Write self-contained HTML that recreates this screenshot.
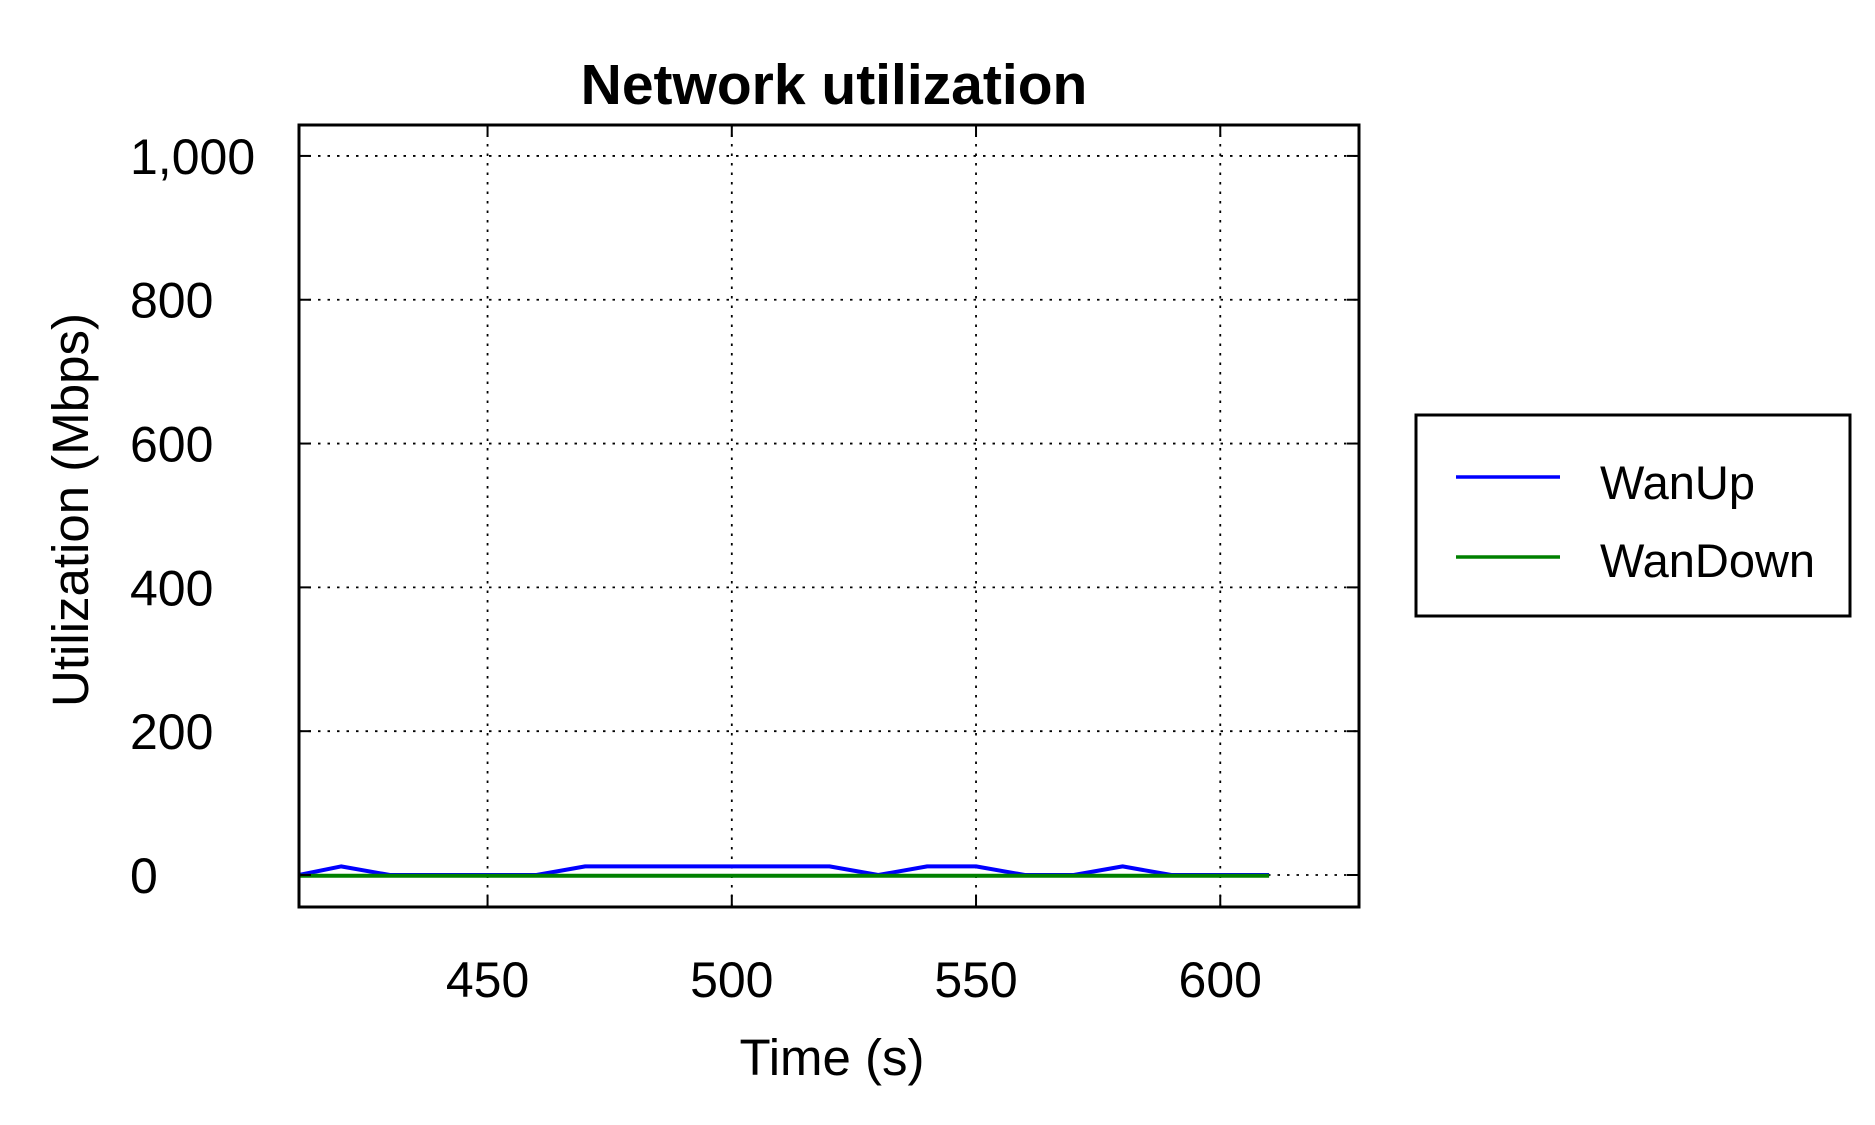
<!DOCTYPE html>
<html><head><meta charset="utf-8"><style>
body{margin:0;background:#fff}
svg{display:block;font-family:"Liberation Sans",Arial,sans-serif}
</style></head><body>
<svg id="chart" width="1875" height="1125" viewBox="0 0 1875 1125" xmlns="http://www.w3.org/2000/svg">
<rect width="1875" height="1125" fill="#fff"/>
<text x="834" y="104" text-anchor="middle" font-size="57" font-weight="bold">Network utilization</text>
<g id="grid"></g>
<g id="series"></g>
<rect x="299" y="125" width="1060" height="782" fill="none" stroke="#000" stroke-width="3"/>
<g id="ticks"></g>
<text x="832" y="1075" text-anchor="middle" font-size="51">Time (s)</text>
<text transform="translate(88,510) rotate(-90)" text-anchor="middle" font-size="51">Utilization (Mbps)</text>
<g>
<rect x="1416" y="415" width="434" height="201" fill="#fff" stroke="#000" stroke-width="3"/>
<line x1="1456" y1="477" x2="1560" y2="477" stroke="#0000ff" stroke-width="3.5"/>
<text x="1600" y="499" font-size="47">WanUp</text>
<line x1="1456" y1="557" x2="1560" y2="557" stroke="#008000" stroke-width="3.5"/>
<text x="1600" y="577" font-size="47">WanDown</text>
</g>
</svg>
<script>
const times = [410,420,430,440,450,460,470,480,490,500,510,520,530,540,550,560,570,580,590,600,610];
const wanUp = [0,12,0,0,0,0,12,12,12,12,12,12,0,12,12,0,0,12,0,0,0];
const wanDown = [-1,-1,-1,-1,-1,-1,-1,-1,-1,-1,-1,-1,-1,-1,-1,-1,-1,-1,-1,-1,-1];
const xTicks = [450,500,550,600];
const yTicks = [0,200,400,600,800,1000];
const yTickLabels = ["0","200","400","600","800","1,000"];

const L=299,R=1359,T=125,B=907;
const xMin=411.4,xMax=628.4,yMin=-44.5,yMax=1043;
const xs=v=>L+(v-xMin)/(xMax-xMin)*(R-L);
const ys=v=>B-(v-yMin)/(yMax-yMin)*(B-T);
const NS="http://www.w3.org/2000/svg";
function mk(tag,attrs,parent){const e=document.createElementNS(NS,tag);for(const k in attrs)e.setAttribute(k,attrs[k]);parent.appendChild(e);return e;}
const grid=document.getElementById('grid'),ticks=document.getElementById('ticks'),series=document.getElementById('series');
xTicks.forEach(v=>{
  const x=xs(v);
  const g=mk('line',{x1:x,y1:T,x2:x,y2:B,stroke:'#000','stroke-width':1.8,'stroke-dasharray':'2.5 7'},grid);
  
  
  const t1=mk('line',{x1:x,y1:B,x2:x,y2:B-12,stroke:'#000','stroke-width':2},ticks);
  
  
  const t2=mk('line',{x1:x,y1:T,x2:x,y2:T+12,stroke:'#000','stroke-width':2},ticks);
  
  
  const lb=mk('text',{x:x,y:997,'text-anchor':'middle','font-size':50},ticks);
  lb.textContent=String(v);
  
  
});
yTicks.forEach((v,i)=>{
  const y=ys(v);
  const g=mk('line',{x1:L,y1:y,x2:R,y2:y,stroke:'#000','stroke-width':1.8,'stroke-dasharray':'2.5 7'},grid);
  
  
  const t1=mk('line',{x1:L,y1:y,x2:L+12,y2:y,stroke:'#000','stroke-width':2},ticks);
  
  
  const t2=mk('line',{x1:R,y1:y,x2:R-12,y2:y,stroke:'#000','stroke-width':2},ticks);
  
  
  const lb=mk('text',{x:130,y:y+18,'font-size':50},ticks);
  lb.textContent=yTickLabels[i];
  
  
});
function line(vals,color,name){
  const pts=times.map((t,i)=>xs(Math.max(t,xMin)).toFixed(1)+','+ys(vals[i]).toFixed(1)).join(' ');
  const p=mk('polyline',{points:pts,fill:'none',stroke:color,'stroke-width':4,'stroke-linejoin':'round'},series);
  
  
}
line(wanUp,'#0000ff','wanup-line');
line(wanDown,'#008000','wandown-line');
</script>
</body></html>
